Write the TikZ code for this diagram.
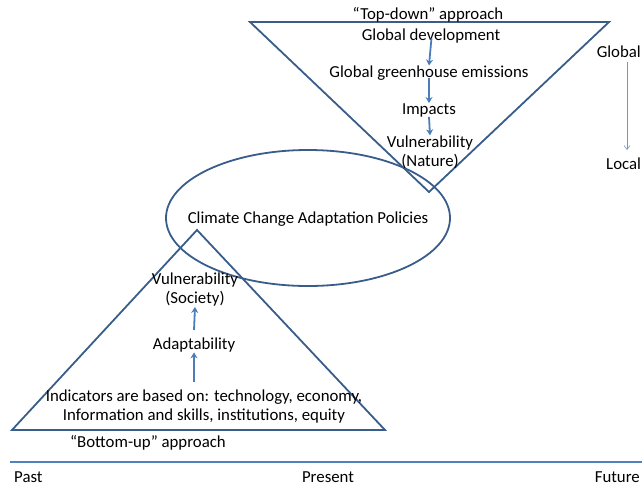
\documentclass[tikz,border=0pt]{standalone}
\usepackage{fontspec}
\setmainfont{Carlito}
\usetikzlibrary{arrows.meta}
\definecolor{shapeblue}{HTML}{385D8A}
\definecolor{arrblue}{HTML}{4A7EBB}
\definecolor{lineblue}{HTML}{4F81BD}
\tikzset{
  lbl/.style={inner sep=0pt, font=\fontsize{16.8}{19}\selectfont, align=center},
  shp/.style={draw=shapeblue, line width=1.8pt},
  flow/.style={draw=arrblue, line width=1.8pt, -{Stealth[length=6pt,width=7pt]}},
  thin/.style={draw=arrblue!80, line width=0.6pt, -{Straight Barb[length=4pt,width=6pt]}}
}
\begin{document}
\begin{tikzpicture}[x=1pt,y=-1pt]
\useasboundingbox (0,0) rectangle (642,488);
% top triangle
\draw[shp] (250,22) -- (609,22) -- (429,192) -- cycle;
% ellipse
\draw[shp] (308,218) ellipse [x radius=142, y radius=68];
% bottom triangle
\draw[shp] (12,430) -- (385,430) -- (197,230) -- cycle;
% timeline
\draw[draw=lineblue, line width=2.6pt] (10,462) -- (642,462);

\node[lbl] (td) at (428,15) {``Top-down'' approach};
\node[lbl] (gd) at (431,36) {Global development};
\node[lbl] (gge) at (429,73) {Global greenhouse emissions};
\node[lbl] (imp) at (429,110) {Impacts};
\node[lbl] (vn) at (430,152) {Vulnerability\\(Nature)};
\draw[flow, shorten <=-5pt] (gd.south) -- (gge.north);
\draw[flow, shorten <=-2pt] (gge.south) -- (imp.north);
\draw[flow] (imp.south) -- (vn.north);

\node[lbl] (ccap) at (308,219) {Climate Change Adaptation Policies};

\node[lbl] (vs) at (195,290) {Vulnerability\\(Society)};
\node[lbl] (ad) at (194,345) {Adaptability};
\node[lbl] (ind) at (204,407) {Indicators are based on: technology, economy,\\Information and skills, institutions, equity};
\draw[flow] (194,382) -- (ad.south);
\draw[flow] (194,330) -- (vs.south);
\node[lbl] (bu) at (148,443) {``Bottom-up'' approach};

\node[lbl, anchor=east] (gl) at (641,52) {Global};
\node[lbl, anchor=west] (lo) at (606,164) {Local};
\draw[thin] (627,62) -- (627,150);

\node[lbl, anchor=west] (past) at (14,477) {Past};
\node[lbl] (pres) at (328,477) {Present};
\node[lbl, anchor=east] (fut) at (640,477) {Future};
\end{tikzpicture}
\end{document}
